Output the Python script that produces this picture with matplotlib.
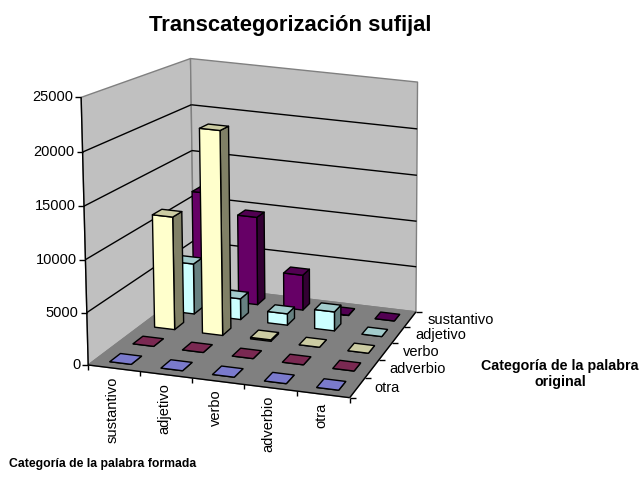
import matplotlib
matplotlib.use('Agg')
import matplotlib.pyplot as plt
from matplotlib.patches import Polygon
import numpy as np

plt.rcParams['font.family'] = ['Liberation Sans', 'DejaVu Sans']

categories = ['sustantivo', 'adjetivo', 'verbo', 'adverbio', 'otra']
# depth rows, front to back
rows = ['otra', 'adverbio', 'verbo', 'adjetivo', 'sustantivo']
otra = [0, 0, 0, 0, 0]
adverbio = [0, 0, 0, 0, 0]
verbo = [11500, 20700, 150, 0, 0]
adjetivo = [5300, 2200, 1200, 2000, 0]
sustantivo = [11500, 9500, 3800, 30, 0]
values = [otra, adverbio, verbo, adjetivo, sustantivo]
colors = ['#9999FF', '#993366', '#FFFFCC', '#CCFFFF', '#660066']
zticks = [0, 5000, 10000, 15000, 20000, 25000]
zmax = 25000.0

# corners of the chart box: unit coordinates -> pixels
box = [(0, 0, 0), (1, 0, 0), (1, 1, 0), (0, 1, 0), (0, 0, 1), (0, 1, 1), (1, 1, 1)]
pix = [(90, 363), (349, 400), (417, 309), (192, 288), (80, 97), (192, 58), (417, 83)]


def fit_camera(box, pix):
    A = []
    for (x, y, z), (u, v) in zip(box, pix):
        A.append([x, y, z, 1, 0, 0, 0, 0, -u * x, -u * y, -u * z, -u])
        A.append([0, 0, 0, 0, x, y, z, 1, -v * x, -v * y, -v * z, -v])
    return np.linalg.svd(np.array(A, float))[2][-1].reshape(3, 4)


cam = fit_camera(box, pix)


def proj(x, y, z):
    p = cam @ np.array([x, y, z, 1.0])
    return p[0] / p[2], p[1] / p[2]


def face(ax, pts, fc, ec='black', lw=1.0, z=2):
    ax.add_patch(Polygon([proj(*p) for p in pts], closed=True, fc=fc, ec=ec, lw=lw, zorder=z, joinstyle='round'))


def shade(col, k):
    c = np.array(matplotlib.colors.to_rgb(col)) * k
    return tuple(c)


def line(ax, a, b, color='black', lw=1.0, z=1.5):
    ax.plot([a[0], b[0]], [a[1], b[1]], color=color, lw=lw, zorder=z, solid_capstyle='butt')


fig = plt.figure(figsize=(6.4, 4.79), dpi=100)
ax = fig.add_axes([0, 0, 1, 1])
ax.set_xlim(0, 640)
ax.set_ylim(479, 0)
ax.axis('off')

# walls and floor
face(ax, [(0, 0, 0), (0, 1, 0), (0, 1, 1), (0, 0, 1)], '#C0C0C0', '#808080', 1.0, 1)
face(ax, [(0, 1, 0), (1, 1, 0), (1, 1, 1), (0, 1, 1)], '#C0C0C0', '#808080', 1.0, 1)
face(ax, [(0, 0, 0), (1, 0, 0), (1, 1, 0), (0, 1, 0)], '#808080', '#808080', 1.0, 1.2)

# gridlines and value axis
for t in zticks:
    z = t / zmax
    if t > 0 and t < zmax:
        line(ax, proj(0, 0, z), proj(0, 1, z))
        line(ax, proj(0, 1, z), proj(1, 1, z))
    x0, y0 = proj(0, 0, z)
    line(ax, (x0 - 6, y0), (x0, y0), z=3)
    ax.text(x0 - 8, y0, str(t), ha='right', va='center', fontsize=10.5, color='black')
line(ax, proj(0, 0, 0), proj(0, 0, 1), z=3)

# category axis
line(ax, proj(0, 0, 0), proj(1, 0, 0), z=3)
for i in range(6):
    x0, y0 = proj(i / 5, 0, 0)
    line(ax, (x0, y0), (x0, y0 + 5), z=3)
for i, name in enumerate(categories):
    x0, y0 = proj((i + 0.5) / 5, 0, 0)
    ax.text(x0 - 1.5, y0 + 8, name, rotation=90, ha='center', va='top', fontsize=10.5)

# depth axis
line(ax, proj(1, 0, 0), proj(1, 1, 0), z=3)
for j in range(6):
    x0, y0 = proj(1, j / 5, 0)
    line(ax, (x0, y0), (x0 + 6, y0), z=3)
for j, name in enumerate(rows):
    x0, y0 = proj(1, (j + 0.5) / 5, 0)
    ax.text(x0 + 17, y0 + 0.5, name, ha='left', va='center', fontsize=10.5)

# bars: back row first, left to right in each row
bw = 0.42 / 5
bd = 0.45 / 5
order = 4.0
for j in range(4, -1, -1):
    for i in range(5):
        v = values[j][i] / zmax
        x0 = (i + 0.29) / 5
        x1 = x0 + bw
        y0 = (j + 0.275) / 5
        y1 = y0 + bd
        col = colors[j]
        order += 0.01
        face(ax, [(x1, y0, 0), (x1, y1, 0), (x1, y1, v), (x1, y0, v)], shade(col, 0.5), z=order)
        face(ax, [(x0, y0, 0), (x1, y0, 0), (x1, y0, v), (x0, y0, v)], col, z=order)
        face(ax, [(x0, y0, v), (x1, y0, v), (x1, y1, v), (x0, y1, v)], shade(col, 0.8), z=order)

ax.text(290, 25, 'Transcategorización sufijal', ha='center', va='center', fontsize=15.8, fontweight='bold')
ax.text(9, 464, 'Categoría de la palabra formada', ha='left', va='center', fontsize=8.8, fontweight='bold')
ax.text(560, 374, 'Categoría de la palabra\noriginal', ha='center', va='center', fontsize=10.3, fontweight='bold')

fig.savefig('out.png', dpi=100)
